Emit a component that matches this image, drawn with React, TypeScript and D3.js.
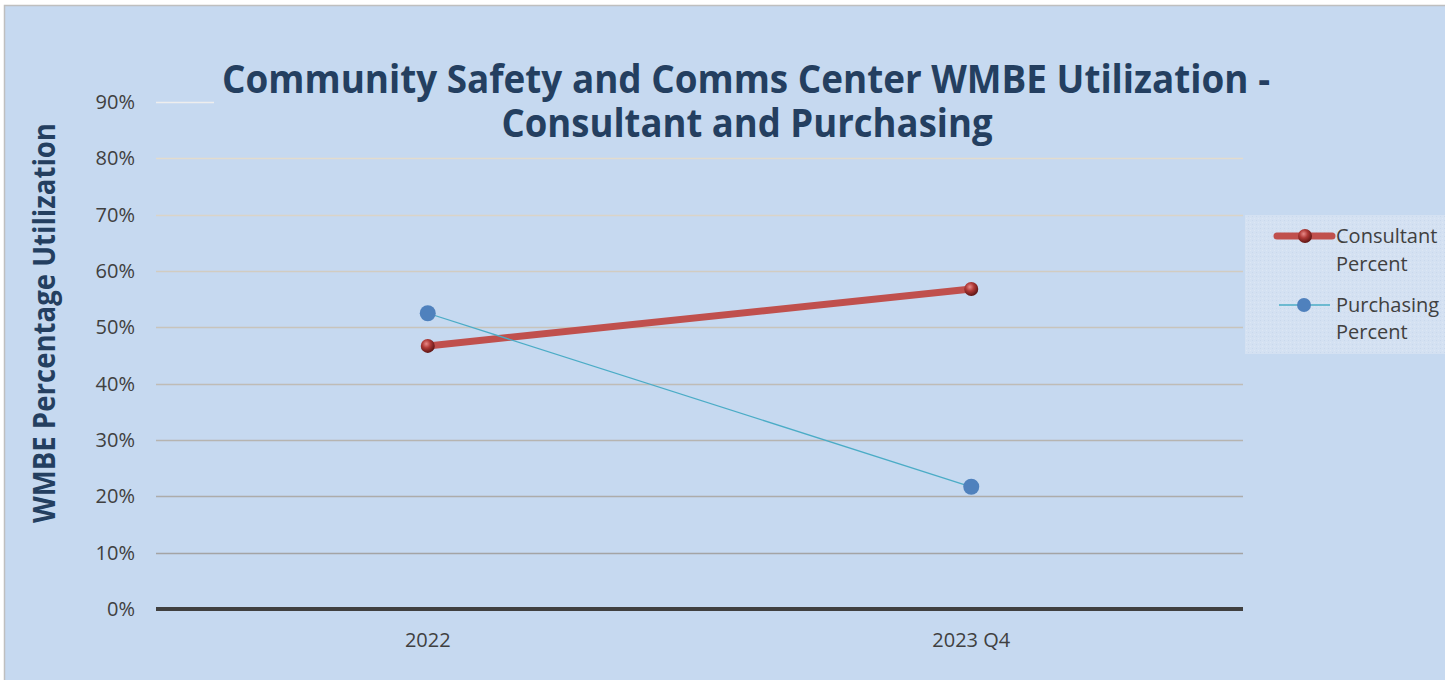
import {useEffect, useRef} from "react";
import * as d3 from "d3";

const categories = ["2022", "2023 Q4"];
const consultant = [0.467, 0.568];
const purchasing = [0.525, 0.217];
const yTicks = [0, 0.1, 0.2, 0.3, 0.4, 0.5, 0.6, 0.7, 0.8, 0.9];
const seriesNames = [["Consultant", "Percent"], ["Purchasing", "Percent"]];

const W = 1445, H = 680;
const FONT = "'Open Sans', 'Liberation Sans', sans-serif";

const App = () => {
    const ref = useRef(null);

    useEffect(() => {
        const svg = d3.select(ref.current);
        svg.selectAll("*").remove();

        const x = d3.scaleBand().domain(categories).range([156, 1243]);
        const y = d3.scaleLinear().domain([0, 0.9]).range([609, 102]);
        const cx = d => x(d) + x.bandwidth() / 2;

        const defs = svg.append("defs");
        const grad = defs.append("radialGradient").attr("id", "ball").attr("cx", "40%").attr("cy", "35%").attr("r", "65%");
        grad.append("stop").attr("offset", "0%").attr("stop-color", "#e88a88");
        grad.append("stop").attr("offset", "45%").attr("stop-color", "#b03a37");
        grad.append("stop").attr("offset", "100%").attr("stop-color", "#5e1514");

        const pat = defs.append("pattern").attr("id", "tex").attr("width", 4).attr("height", 4).attr("patternUnits", "userSpaceOnUse");
        pat.append("rect").attr("width", 4).attr("height", 4).attr("fill", "#d4e1f2");
        pat.append("rect").attr("width", 1).attr("height", 1).attr("fill", "#c9d8ec");
        pat.append("rect").attr("x", 2).attr("y", 2).attr("width", 1).attr("height", 1).attr("fill", "#dde7f4");

        svg.append("rect").attr("width", W).attr("height", H).attr("fill", "#ffffff");
        svg.append("rect").attr("x", 4.5).attr("y", 5.5).attr("width", W).attr("height", H)
            .attr("fill", "#c6d9f0").attr("stroke", "#bfbfbf").attr("stroke-width", 1.5);

        // gridlines
        const gc = d3.scaleLinear().domain([0.9, 0.8, 0.1]).range(["#eeeeee", "#e3dccd", "#a4a4a4"]).interpolate(d3.interpolateRgb);
        svg.append("g").selectAll("line").data(yTicks.filter(t => t > 0)).enter().append("line")
            .attr("x1", 156).attr("x2", 1243)
            .attr("y1", d => Math.round(y(d)) + 0.5).attr("y2", d => Math.round(y(d)) + 0.5)
            .attr("stroke", d => gc(d)).attr("stroke-width", 1.5);

        svg.append("line").attr("x1", 156).attr("x2", 1243).attr("y1", y(0)).attr("y2", y(0))
            .attr("stroke", "#404040").attr("stroke-width", 4);

        // y tick labels
        svg.append("g").selectAll("text").data(yTicks).enter().append("text")
            .attr("x", 135).attr("y", d => y(d) + 7).attr("text-anchor", "end")
            .attr("font-family", FONT).attr("font-size", 20).attr("fill", "#404040")
            .text(d => d3.format(".0%")(d));

        // x labels
        svg.append("g").selectAll("text").data(categories).enter().append("text")
            .attr("x", d => cx(d)).attr("y", 647).attr("text-anchor", "middle")
            .attr("font-family", FONT).attr("font-size", 20).attr("fill", "#404040")
            .text(d => d);

        // title
        svg.append("rect").attr("x", 214).attr("y", 58).attr("width", 1066).attr("height", 92).attr("fill", "#c6d9f0");
        const title = svg.append("text").attr("text-anchor", "middle").attr("font-family", FONT)
            .attr("font-weight", "bold").attr("font-size", 40).attr("fill", "#243f60");
        title.append("tspan").attr("x", 746).attr("y", 93).attr("textLength", 1048).attr("lengthAdjust", "spacingAndGlyphs")
            .text("Community Safety and Comms Center WMBE Utilization -");
        title.append("tspan").attr("x", 747).attr("y", 137).attr("textLength", 491).attr("lengthAdjust", "spacingAndGlyphs")
            .text("Consultant and Purchasing");

        // y axis title
        svg.append("text").attr("transform", "translate(55,323) rotate(-90)").attr("text-anchor", "middle")
            .attr("font-family", FONT).attr("font-weight", "bold").attr("font-size", 30).attr("fill", "#243f60")
            .attr("textLength", 400).attr("lengthAdjust", "spacingAndGlyphs")
            .text("WMBE Percentage Utilization");

        const line = d3.line().x(d => cx(d[0])).y(d => y(d[1]));
        const cData = categories.map((c, i) => [c, consultant[i]]);
        const pData = categories.map((c, i) => [c, purchasing[i]]);

        svg.append("path").attr("d", line(cData)).attr("fill", "none").attr("stroke", "#c0504d").attr("stroke-width", 7);
        svg.append("path").attr("d", line(pData)).attr("fill", "none").attr("stroke", "#4bacc6").attr("stroke-width", 1.3);

        svg.append("g").selectAll("circle").data(pData).enter().append("circle")
            .attr("cx", d => cx(d[0])).attr("cy", d => y(d[1])).attr("r", 8).attr("fill", "#4f81bd");
        svg.append("g").selectAll("circle").data(cData).enter().append("circle")
            .attr("cx", d => cx(d[0])).attr("cy", d => y(d[1])).attr("r", 7).attr("fill", "url(#ball)");

        // legend
        const lg = svg.append("g");
        lg.append("rect").attr("x", 1245).attr("y", 215).attr("width", 205).attr("height", 139).attr("fill", "url(#tex)");
        lg.append("line").attr("x1", 1277).attr("x2", 1332).attr("y1", 236).attr("y2", 236)
            .attr("stroke", "#c0504d").attr("stroke-width", 7).attr("stroke-linecap", "round");
        lg.append("circle").attr("cx", 1305).attr("cy", 236).attr("r", 7).attr("fill", "url(#ball)");
        lg.append("line").attr("x1", 1279).attr("x2", 1330).attr("y1", 305).attr("y2", 305)
            .attr("stroke", "#4bacc6").attr("stroke-width", 1.3);
        lg.append("circle").attr("cx", 1304).attr("cy", 305).attr("r", 7).attr("fill", "#4f81bd");
        const baselines = [[243, 271], [312, 339]];
        seriesNames.forEach((n, i) => {
            n.forEach((t, j) => {
                lg.append("text").attr("x", 1336).attr("y", baselines[i][j])
                    .attr("font-family", FONT).attr("font-size", 20).attr("fill", "#404040").text(t);
            });
        });
    }, []);

    return <svg ref={ref} width={W} height={H} style={{position: "absolute", left: 0, top: 0}}/>;
};

export default App;
